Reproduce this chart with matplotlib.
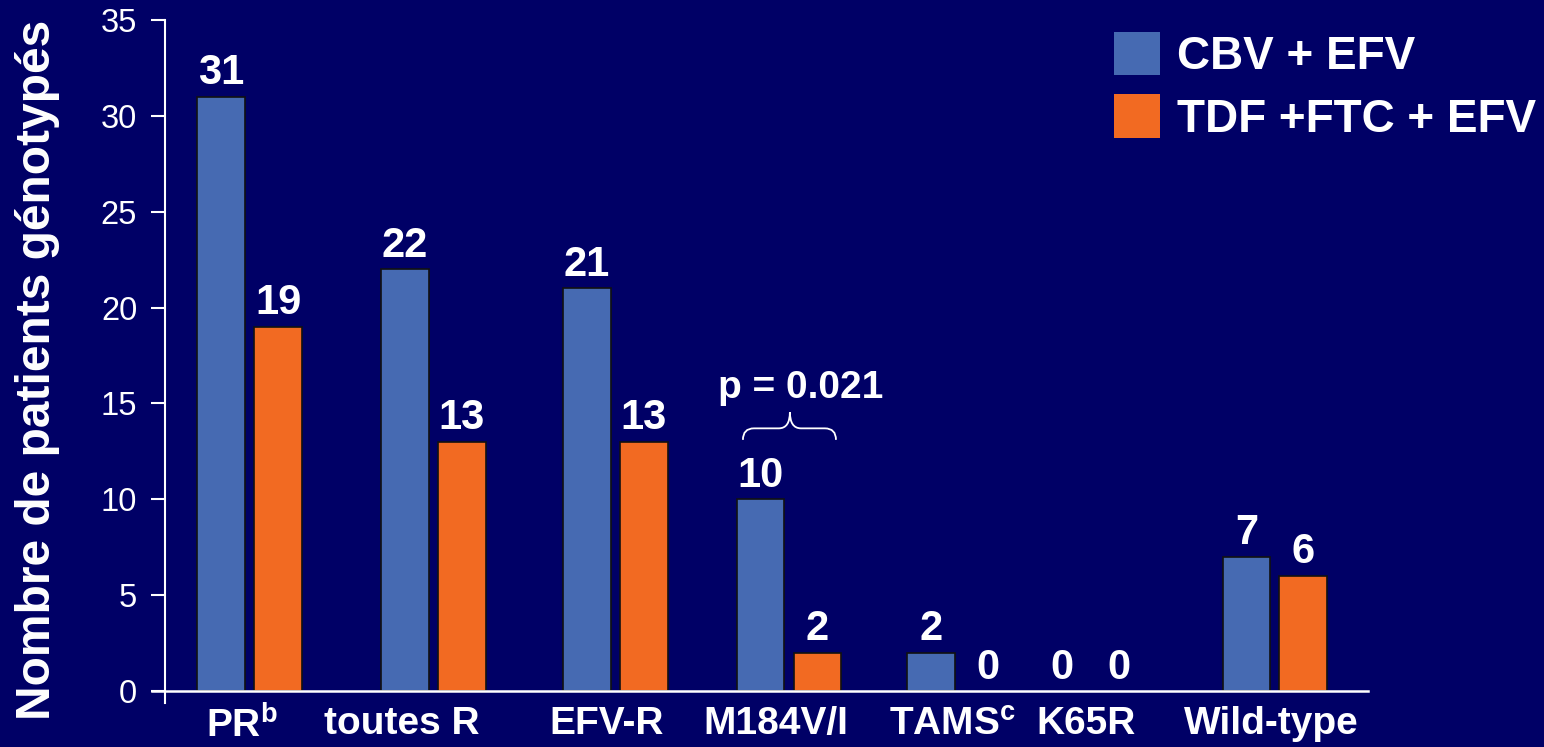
import matplotlib.pyplot as plt
import numpy as np
from matplotlib.path import Path
from matplotlib.patches import PathPatch, Patch

plt.rcParams['font.family'] = ['Liberation Sans', 'DejaVu Sans']
plt.rcParams['mathtext.default'] = 'regular'

categories = ['PR$^{b}$', 'toutes R', 'EFV-R', 'M184V/I', 'TAMS$^{c}$', 'K65R', 'Wild-type']
cbv_efv = [31, 22, 21, 10, 2, 0, 7]
tdf_ftc_efv = [19, 13, 13, 2, 0, 0, 6]
series_names = ['CBV + EFV', 'TDF +FTC + EFV']
p_text = 'p = 0.021'

# group positions (slightly irregular like the original slide)
group_x = np.array([0.457, 1.449, 2.435, 3.373, 4.297, 5.0, 6.0])
label_x = np.array([0.416, 1.281, 2.389, 3.303, 4.259, 4.978, 5.978])

bg = '#000066'
blue = '#466AB2'
orange = '#F26A22'

fig = plt.figure(figsize=(15.44, 7.47), dpi=100, facecolor=bg)
ax = fig.add_axes([152/1544, 1 - 703/747, (1368 - 152)/1544, (703 - 20)/747])
ax.set_facecolor(bg)

for s in ('top', 'right'):
    ax.spines[s].set_visible(False)
ax.spines['left'].set_position(('data', 0.0))
ax.spines['bottom'].set_position(('data', 0.0))
ax.spines['left'].set_color('white')
ax.spines['bottom'].set_color('white')
ax.spines['left'].set_linewidth(1.5)
ax.spines['bottom'].set_linewidth(1.8)

w = 0.259
off = 0.154
ec1 = ['#111111' if v > 0 else 'none' for v in cbv_efv]
ec2 = ['#111111' if v > 0 else 'none' for v in tdf_ftc_efv]
b1 = ax.bar(group_x - off, cbv_efv, w, color=blue, edgecolor=ec1, linewidth=1.2, zorder=2)
b2 = ax.bar(group_x + off, tdf_ftc_efv, w, color=orange, edgecolor=ec2, linewidth=1.2, zorder=2)
for bars in (b1, b2):
    ax.bar_label(bars, padding=2.5, color='white', fontsize=30, fontweight='bold')

ax.set_xlim(-0.0703, 6.503)
ax.set_ylim(-0.626, 35)
ax.spines['left'].set_bounds(-0.626, 35)
ax.set_yticks(range(0, 36, 5))
ax.tick_params(axis='y', colors='white', labelsize=23.5, length=10, width=1.5, pad=10, direction='out')
ax.set_xticks(label_x)
ax.set_xticklabels(categories, fontsize=28, fontweight='bold', color='white')
ax.tick_params(axis='x', length=0, pad=11)

ax.set_ylabel('Nombre de patients génotypés', fontsize=34.5, fontweight='bold', color='white')
ax.yaxis.set_label_coords(-0.076, 0.4876)

# p-value with curly brace over M184V/I
xl, xr = 3.124, 3.627
xc = 3.378
y0, y1, yt = 13.1, 13.7, 14.55
r = 0.06
verts = [(xl, y0), (xl, y1), (xl + r, y1),
         (xc - r, y1), (xc, y1), (xc, yt),
         (xc, y1), (xc + r, y1),
         (xr - r, y1), (xr, y1), (xr, y0)]
codes = [Path.MOVETO, Path.CURVE3, Path.CURVE3,
         Path.LINETO, Path.CURVE3, Path.CURVE3,
         Path.CURVE3, Path.CURVE3,
         Path.LINETO, Path.CURVE3, Path.CURVE3]
ax.add_patch(PathPatch(Path(verts, codes), facecolor='none', edgecolor='white', lw=1.3))
ax.text(xc + 0.06, 15.3, p_text, color='white', fontsize=28, fontweight='bold', ha='center', va='baseline')

handles = [Patch(facecolor=blue), Patch(facecolor=orange)]
fig.legend(handles, series_names, loc='upper left', bbox_to_anchor=(1114/1544, 1 - 32/747),
           frameon=False, labelcolor='white', prop={'weight': 'bold', 'size': 33},
           handlelength=1.0, handleheight=1.08, handletextpad=0.37, labelspacing=0.33,
           borderpad=0, borderaxespad=0)

fig.savefig('out.png', dpi=100, facecolor=bg)
